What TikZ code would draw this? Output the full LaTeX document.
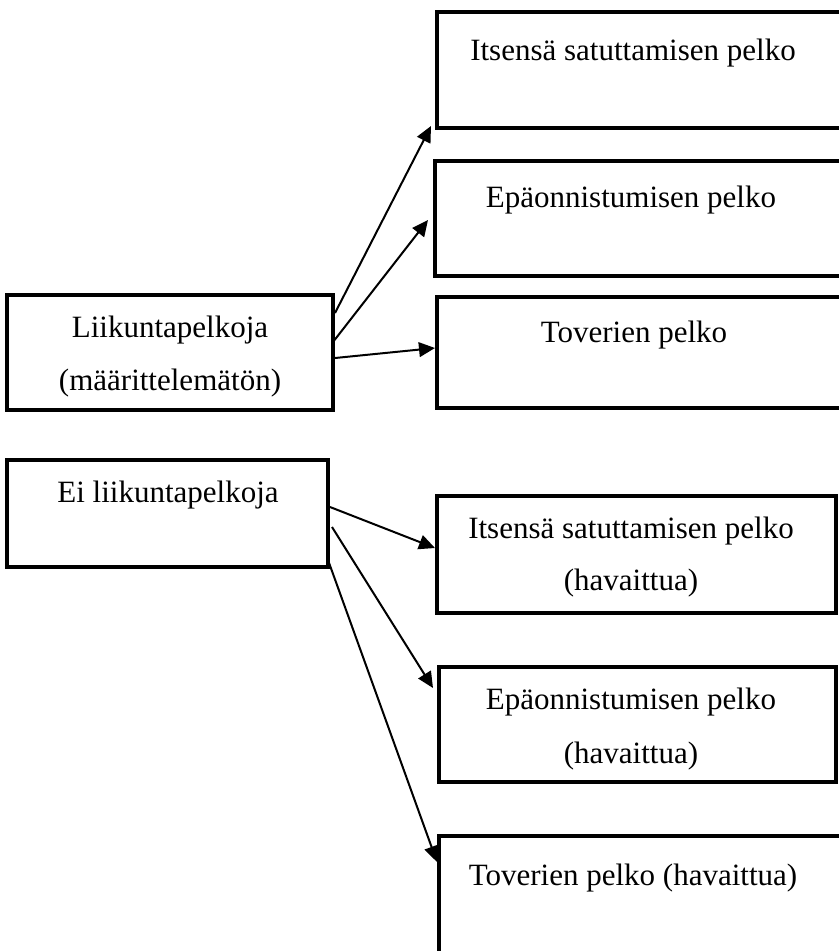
\documentclass[tikz,border=0pt]{standalone}
\usepackage{fontspec}
\setmainfont{Liberation Serif}
\usetikzlibrary{arrows.meta,calc}
\tikzset{
  box/.style 2 args={draw=black, line width=3pt, inner sep=0pt, outer sep=0pt,
    anchor=north west, minimum width=#1*0.75pt, minimum height=#2*0.75pt},
  txt/.style={anchor=base, inner sep=0pt, font=\fontsize{23.25pt}{28pt}\selectfont},
  arr/.style={line width=1.5pt, -{Triangle[length=12pt,width=11pt]}}
}
\begin{document}
\begin{tikzpicture}[x=0.75pt,y=-0.75pt]
\useasboundingbox (0,0) rectangle (839,951);
\fill[white] (0,0) rectangle (839,951);
\clip (0,0) rectangle (839,951);
% boxes
\node[box={423}{116}] (A) at (437,12) {};
\node[box={425}{115}] (B) at (435,161) {};
\node[box={423}{111}] (C) at (437,297) {};
\node[box={326}{115}] (L1) at (7,295) {};
\node[box={321}{107}] (L2) at (7,460) {};
\node[box={399}{117}] (D) at (437,496) {};
\node[box={397}{115}] (E) at (439,667) {};
\node[box={421}{140}] (F) at (439,836) {};
% texts
\node[txt] (At) at (633,60) {Itsensä satuttamisen pelko};
\node[txt] (Bt) at (631,207) {Epäonnistumisen pelko};
\node[txt] (Ct) at (634,342) {Toverien pelko};
\node[txt] (L1a) at (170,337) {Liikuntapelkoja};
\node[txt] (L1b) at (170,390) {(määrittelemätön)};
\node[txt] (L2t) at (168,502) {Ei liikuntapelkoja};
\node[txt] (Da) at (631,538) {Itsensä satuttamisen pelko};
\node[txt] (Db) at (631,590) {(havaittua)};
\node[txt] (Ea) at (631,709) {Epäonnistumisen pelko};
\node[txt] (Eb) at (631,763) {(havaittua)};
\node[txt] (Ft) at (633,885) {Toverien pelko (havaittua)};
% arrows
\draw[arr] ($(L1.north east)+(2,18)$) -- ($(A.south west)+(-6,-2)$);
\draw[arr] ($(L1.north east)+(0,47)$) -- ($(B.west)+(-7,1.5)$);
\draw[arr] ($(L1.north east)+(2,63)$) -- ($(C.north west)+(-2,51)$);
\draw[arr] ($(L2.north east)+(2,47)$) -- ($(D.north west)+(-2,52)$);
\draw[arr] ($(L2.north east)+(4,67)$) -- ($(E.north west)+(-6,21)$);
\draw[arr] ($(L2.north east)+(0,100)$) -- ($(F.north west)+(-2,26)$);
\end{tikzpicture}
\end{document}
